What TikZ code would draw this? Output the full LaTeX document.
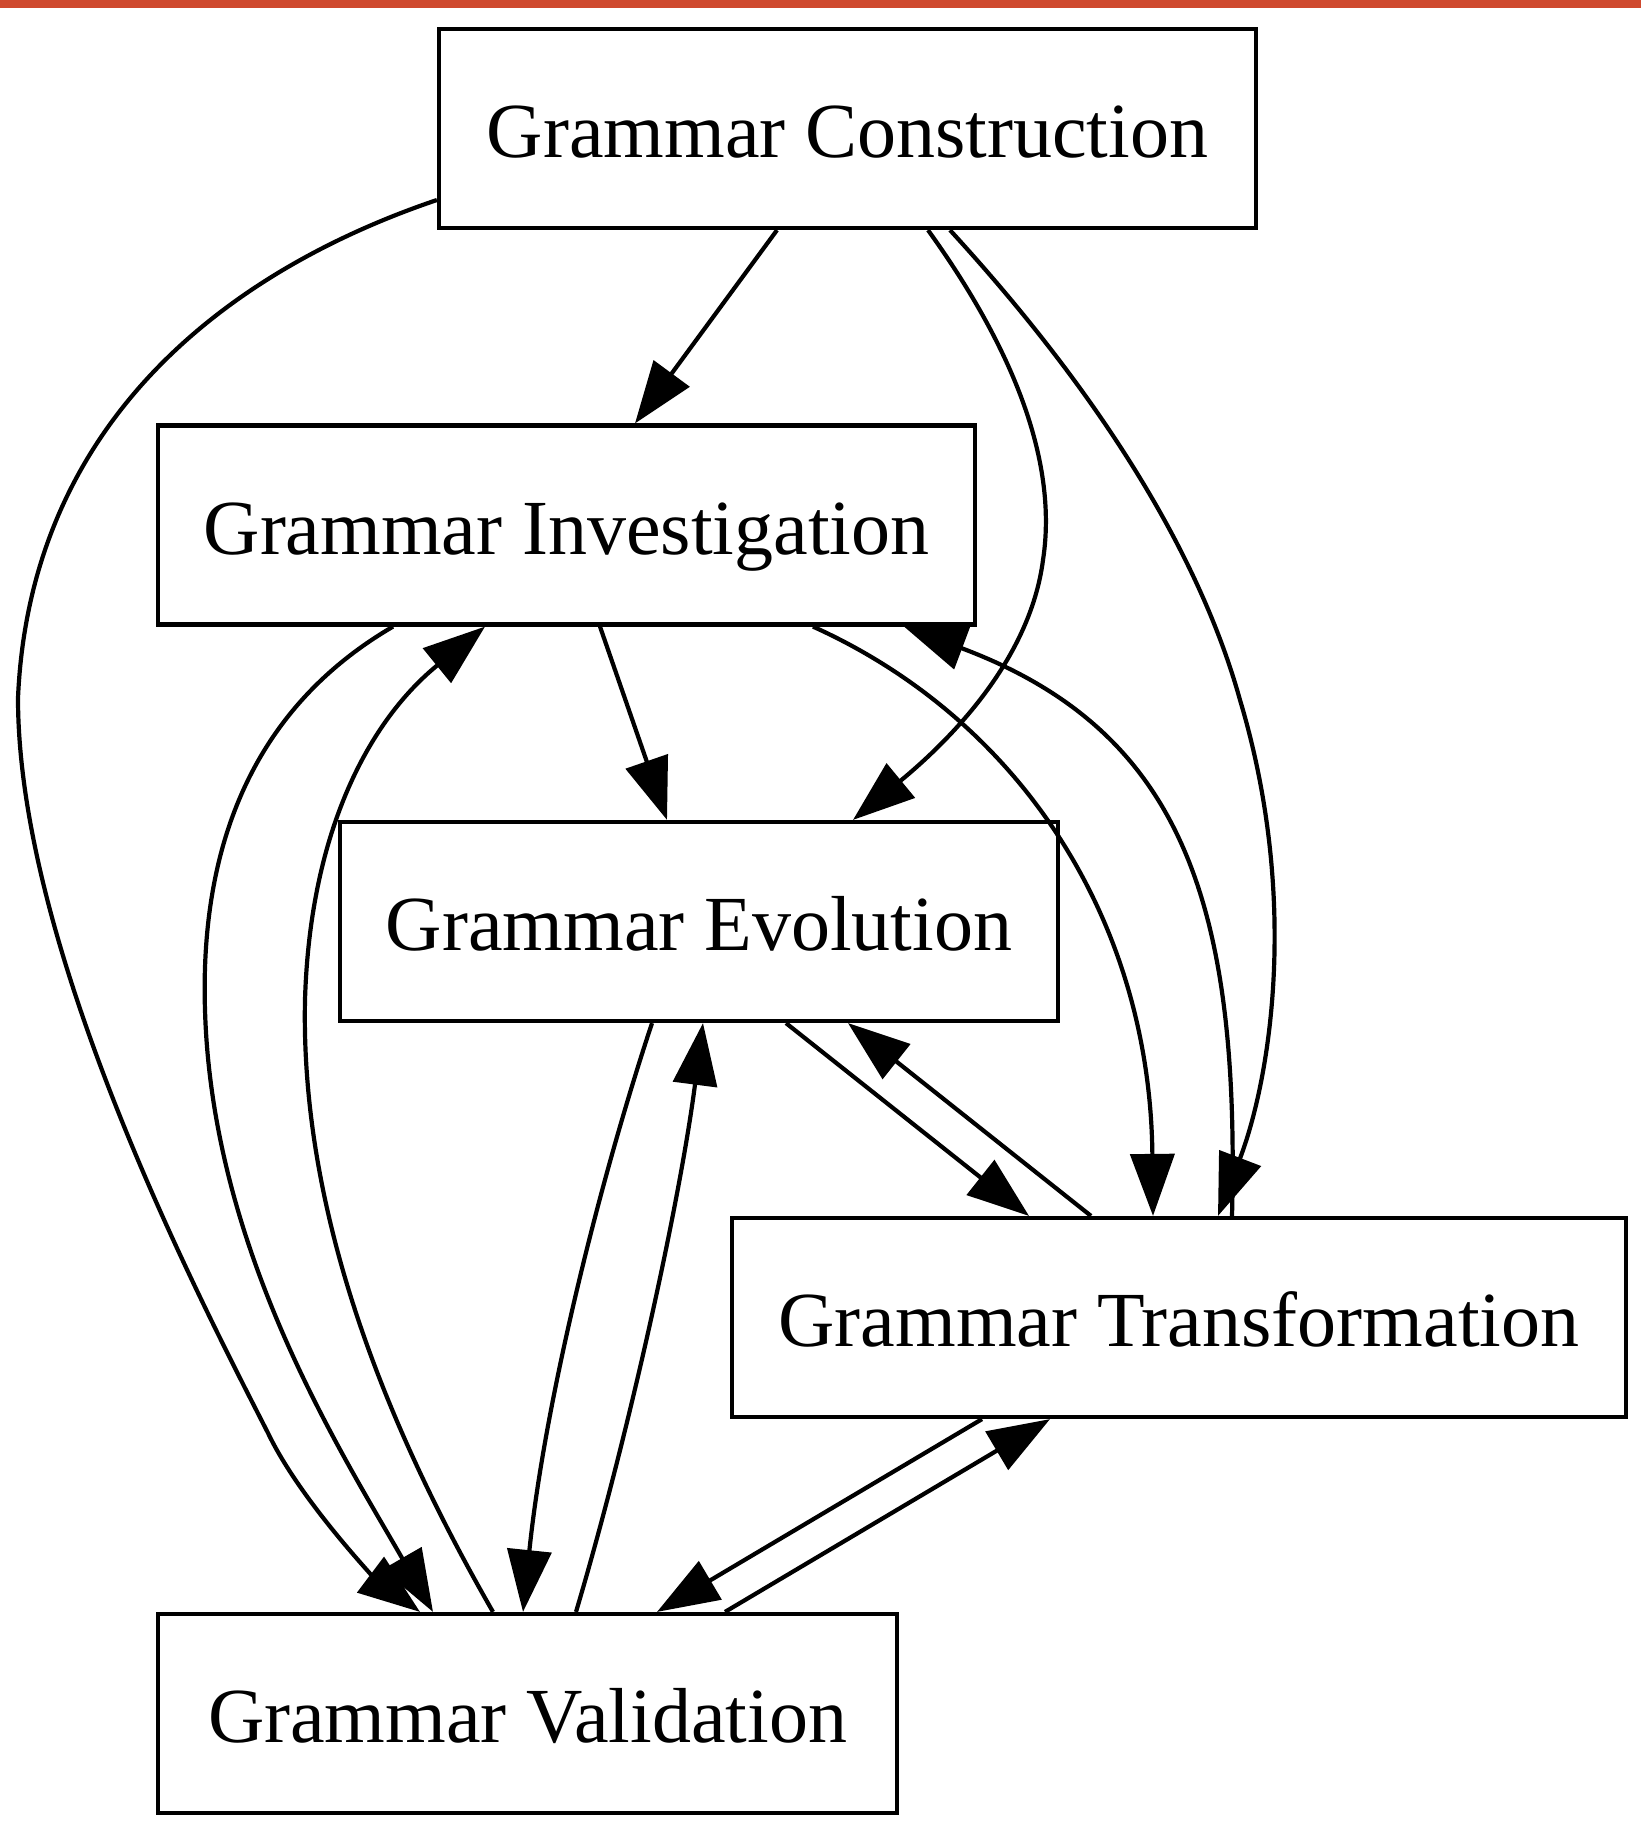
\documentclass[tikz,border=0pt]{standalone}
\usepackage{fontspec}
\setmainfont{Liberation Serif}
\usetikzlibrary{arrows.meta}
\definecolor{topbar}{RGB}{207,73,46}
\begin{document}
\begin{tikzpicture}[x=1pt,y=-1pt,
  box/.style={draw, line width=4.2pt, inner sep=0pt, minimum height=199pt, text height=70pt, text depth=12pt, font=\fontsize{78}{90}\selectfont},
  edge/.style={line width=4.2pt, -{Triangle[length=62pt,width=44pt]}}]
\useasboundingbox (0,0) rectangle (1641,1837);
\fill[white] (0,0) rectangle (1641,1837);
\fill[topbar] (0,0) rectangle (1641,8);
\node[box, minimum width=817pt] (C) at (847.5,128.5) {Grammar Construction};
\node[box, minimum width=817pt] (I) at (566.5,525) {Grammar Investigation};
\node[box, minimum width=718pt] (E) at (699,921.5) {Grammar Evolution};
\node[box, minimum width=894pt] (T) at (1179,1317.5) {Grammar Transformation};
\node[box, minimum width=739pt] (V) at (527.5,1713.5) {Grammar Validation};
% Construction -> Validation
\draw[edge] ([yshift=-71.5pt]C.west) .. controls (230,270) and (30,420) .. (18,698)
  .. controls (18,950) and (200,1300) .. (268,1433)
  .. controls (300,1500) and (375,1578) .. ([xshift=-107.5pt]V.north);
% Construction -> Investigation
\draw[edge] ([xshift=-70.5pt]C.south) -- ([xshift=68.5pt]I.north);
% Construction -> Evolution
\draw[edge] ([xshift=80.5pt]C.south) .. controls (1000,330) and (1060,450) .. (1043,560)
  .. controls (1030,660) and (950,740) .. ([xshift=154pt]E.north);
% Construction -> Transformation
\draw[edge] ([xshift=102.5pt]C.south) .. controls (1060,350) and (1190,520) .. (1240,700)
  .. controls (1300,900) and (1270,1080) .. ([xshift=39pt]T.north);
% Investigation -> Evolution
\draw[edge] ([xshift=33.5pt]I.south) -- ([xshift=-32pt]E.north);
% Investigation -> Transformation
\draw[edge] ([xshift=246.5pt]I.south) .. controls (1020,720) and (1150,920) .. ([xshift=-26pt]T.north);
% Transformation -> Investigation
\draw[edge] ([xshift=53pt]T.north) .. controls (1240,900) and (1180,730) .. ([xshift=337.5pt]I.south);
% Investigation -> Validation
\draw[edge] ([xshift=-173.5pt]I.south) .. controls (250,710) and (200,850) .. (205,1010)
  .. controls (212,1250) and (340,1450) .. ([xshift=-94.5pt]V.north);
% Validation -> Investigation
\draw[edge] ([xshift=-34.5pt]V.north) .. controls (400,1450) and (300,1230) .. (305,1000)
  .. controls (310,830) and (370,720) .. ([xshift=-81.5pt]I.south);
% Evolution -> Validation
\draw[edge] ([xshift=-47pt]E.south) .. controls (600,1180) and (545,1400) .. ([xshift=-4.5pt]V.north);
% Validation -> Evolution
\draw[edge] ([xshift=48.5pt]V.north) .. controls (630,1430) and (680,1200) .. ([xshift=4pt]E.south);
% Evolution -> Transformation
\draw[edge] ([xshift=87pt]E.south) -- ([xshift=-150pt]T.north);
% Transformation -> Evolution
\draw[edge] ([xshift=-88pt]T.north) -- ([xshift=149pt]E.south);
% Transformation -> Validation
\draw[edge] ([xshift=-197pt]T.south) -- ([xshift=129.5pt]V.north);
% Validation -> Transformation
\draw[edge] ([xshift=197.5pt]V.north) -- ([xshift=-129pt]T.south);
\end{tikzpicture}
\end{document}
